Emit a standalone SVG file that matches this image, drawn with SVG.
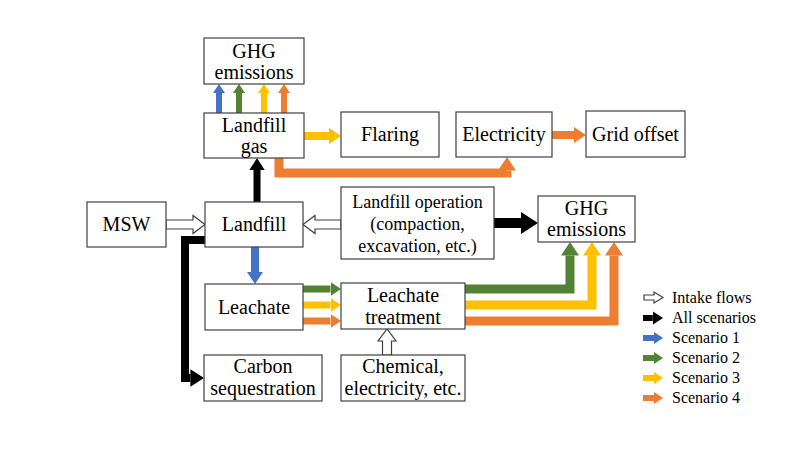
<svg xmlns="http://www.w3.org/2000/svg" width="800" height="450" viewBox="0 0 800 450" font-family="Liberation Serif, DejaVu Serif, serif">
<style>
.box{fill:#fff;stroke:#404040;stroke-width:1.2}
text{fill:#000;text-anchor:middle}
.t{font-size:20px}
.s{font-size:18px}
.lg{font-size:16px;text-anchor:start}
.fl{fill:none;stroke-linejoin:miter;stroke-linecap:butt}
.blue{stroke:#4472C4}
.green{stroke:#548235}
.yellow{stroke:#FFC000}
.orange{stroke:#ED7D31}
.black{stroke:#000}
.open{fill:#fff;stroke:#404040;stroke-width:1.2;stroke-linejoin:miter}
</style>
<defs>
<marker id="hb" viewBox="0 0 3 4" refX="0" refY="2" markerWidth="1.5" markerHeight="2" orient="auto" markerUnits="strokeWidth"><path d="M0,0 L3,2 L0,4 z" fill="#4472C4"/></marker>
<marker id="hg" viewBox="0 0 3 4" refX="0" refY="2" markerWidth="1.5" markerHeight="2" orient="auto" markerUnits="strokeWidth"><path d="M0,0 L3,2 L0,4 z" fill="#548235"/></marker>
<marker id="hy" viewBox="0 0 3 4" refX="0" refY="2" markerWidth="1.5" markerHeight="2" orient="auto" markerUnits="strokeWidth"><path d="M0,0 L3,2 L0,4 z" fill="#FFC000"/></marker>
<marker id="ho" viewBox="0 0 3 4" refX="0" refY="2" markerWidth="1.5" markerHeight="2" orient="auto" markerUnits="strokeWidth"><path d="M0,0 L3,2 L0,4 z" fill="#ED7D31"/></marker>
<marker id="hk" viewBox="0 0 3.4 4.4" refX="0" refY="2.2" markerWidth="1.7" markerHeight="2.2" orient="auto" markerUnits="strokeWidth"><path d="M0,0 L3.4,2.2 L0,4.4 z" fill="#000"/></marker>
</defs>

<g id="connectors">
<path class="fl blue" stroke-width="6" d="M219,113 V93" marker-end="url(#hb)"/>
<path class="fl green" stroke-width="6" d="M239,113 V93" marker-end="url(#hg)"/>
<path class="fl yellow" stroke-width="6" d="M264,113 V93" marker-end="url(#hy)"/>
<path class="fl orange" stroke-width="6" d="M284,113 V93" marker-end="url(#ho)"/>
<path class="fl yellow" stroke-width="8" d="M304,136 H329" marker-end="url(#hy)"/>
<path class="fl orange" stroke-width="9" d="M279,158 V173 H507 V170.5" marker-end="url(#ho)"/>
<path class="fl orange" stroke-width="8" d="M552,135 H574" marker-end="url(#ho)"/>
<path class="fl black" stroke-width="7" d="M257,202 V170" marker-end="url(#hk)"/>
<path class="open" d="M166,220 H193 V215.5 L205,224.5 L193,233.5 V229 H166 z"/>
<path class="open" d="M341,220 H315 V215.5 L303,224.5 L315,233.5 V229 H341 z"/>
<path class="fl black" stroke-width="10" d="M494,223 H521" marker-end="url(#hk)"/>
<path class="fl black" stroke-width="8" d="M205,240 H185 V378 H190.4" marker-end="url(#hk)"/>
<path class="fl blue" stroke-width="8" d="M255,247 V272" marker-end="url(#hb)"/>
<path class="fl green" stroke-width="7" d="M303,289 H330.5" marker-end="url(#hg)"/>
<path class="fl yellow" stroke-width="7" d="M303,305 H330.5" marker-end="url(#hy)"/>
<path class="fl orange" stroke-width="7" d="M303,321 H330.5" marker-end="url(#ho)"/>
<path class="fl green" stroke-width="9" d="M465,289 H570 V255.5" marker-end="url(#hg)"/>
<path class="fl yellow" stroke-width="9" d="M465,305 H592 V255.5" marker-end="url(#hy)"/>
<path class="fl orange" stroke-width="9" d="M465,321 H614 V255.5" marker-end="url(#ho)"/>
<path class="open" d="M382.5,355 V341 H378 L387,329 L396,341 H391.5 V355 z"/>
</g>

<g id="ghg-top"><rect class="box" x="204" y="38" width="100" height="46"/><text class="t" x="254" y="58">GHG</text><text class="t" x="254" y="79">emissions</text></g>
<g id="landfill-gas"><rect class="box" x="204" y="113" width="100" height="45"/><text class="t" x="254" y="132">Landfill</text><text class="t" x="254" y="153">gas</text></g>
<g id="flaring"><rect class="box" x="341" y="112" width="98" height="45"/><text class="t" x="390" y="141">Flaring</text></g>
<g id="electricity"><rect class="box" x="456" y="112" width="96" height="45"/><text class="t" x="504" y="141">Electricity</text></g>
<g id="grid-offset"><rect class="box" x="586" y="111" width="99" height="46"/><text class="t" x="635.5" y="141">Grid offset</text></g>
<g id="msw"><rect class="box" x="87" y="202" width="79" height="45"/><text class="t" x="126.5" y="231">MSW</text></g>
<g id="landfill"><rect class="box" x="205" y="202" width="98" height="45"/><text class="t" x="254" y="231">Landfill</text></g>
<g id="landfill-operation"><rect class="box" x="341" y="187" width="153" height="72"/><text class="s" x="417.5" y="208">Landfill operation</text><text class="s" x="417.5" y="230">(compaction,</text><text class="s" x="417.5" y="252">excavation, etc.)</text></g>
<g id="ghg-right"><rect class="box" x="538" y="196" width="97" height="46"/><text class="t" x="586.5" y="215">GHG</text><text class="t" x="586.5" y="236">emissions</text></g>
<g id="leachate"><rect class="box" x="205" y="284" width="98" height="46"/><text class="t" x="254" y="314">Leachate</text></g>
<g id="leachate-treatment"><rect class="box" x="341" y="283" width="124" height="46"/><text class="t" x="403" y="302">Leachate</text><text class="t" x="403" y="324">treatment</text></g>
<g id="carbon-sequestration"><rect class="box" x="204" y="355" width="118" height="46"/><text class="t" x="263" y="373">Carbon</text><text class="t" x="263" y="395">sequestration</text></g>
<g id="chemical"><rect class="box" x="341" y="355" width="124" height="46"/><text class="t" x="403" y="373">Chemical,</text><text class="t" x="403" y="395">electricity, etc.</text></g>

<g id="legend">
<path class="open" d="M644,295 H654 V292 L663,297.5 L654,303 V300 H644 z"/>
<path class="fl black" stroke-width="6" d="M643,318 H652.8" marker-end="url(#hk)"/>
<path class="fl blue" stroke-width="6" d="M643,338 H654" marker-end="url(#hb)"/>
<path class="fl green" stroke-width="6" d="M643,358 H654" marker-end="url(#hg)"/>
<path class="fl yellow" stroke-width="6" d="M643,378 H654" marker-end="url(#hy)"/>
<path class="fl orange" stroke-width="6" d="M643,398 H654" marker-end="url(#ho)"/>
<text class="lg" x="672" y="303">Intake flows</text>
<text class="lg" x="672" y="323">All scenarios</text>
<text class="lg" x="672" y="343">Scenario 1</text>
<text class="lg" x="672" y="363">Scenario 2</text>
<text class="lg" x="672" y="383">Scenario 3</text>
<text class="lg" x="672" y="403">Scenario 4</text>
</g>
</svg>
